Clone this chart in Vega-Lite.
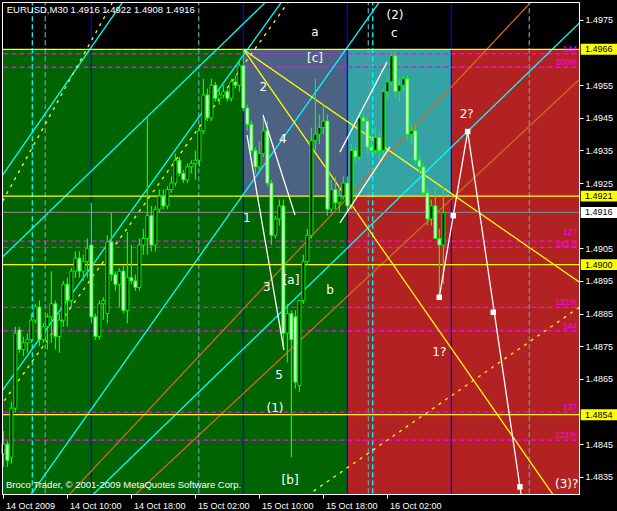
{
"$schema":"https://vega.github.io/schema/vega-lite/v6.json",
"width":577,"height":492,
"autosize":{"type":"none"},
"padding":{"left":2,"top":2,"right":38,"bottom":17},
"background":"#000000",
"config":{"view":{"stroke":null},"axis":{"labelColor":"#FFFFFF","tickColor":"#FFFFFF","domainColor":"#FFFFFF","grid":false,"labelFont":"Liberation Sans","labelFontSize":9,"tickSize":4}},
"datasets":{
"zones":[
{"zone":"up","t":"2009-10-14T00:00Z","t2":"2009-10-15T21:00Z","p":1.4966,"p2":1.4800},
{"zone":"wave","t":"2009-10-15T08:00Z","t2":"2009-10-15T21:00Z","p":1.4966,"p2":1.4921},
{"zone":"proj","t":"2009-10-15T21:00Z","t2":"2009-10-16T10:00Z","p":1.4966,"p2":1.4921},
{"zone":"target","t":"2009-10-15T21:00Z","t2":"2009-10-17T06:00Z","p":1.4921,"p2":1.4800},
{"zone":"target","t":"2009-10-16T10:00Z","t2":"2009-10-17T06:00Z","p":1.4966,"p2":1.4921}
],
"lines":[
{"id":"B1","k":"blue","t":"2009-10-14T13:00Z","p":1.47},{"id":"B1","k":"blue","t":"2009-10-14T13:00Z","p":1.50},
{"id":"B2","k":"blue","t":"2009-10-15T08:00Z","p":1.47},{"id":"B2","k":"blue","t":"2009-10-15T08:00Z","p":1.50},
{"id":"B3","k":"blue","t":"2009-10-15T21:00Z","p":1.47},{"id":"B3","k":"blue","t":"2009-10-15T21:00Z","p":1.50},
{"id":"B4","k":"blue","t":"2009-10-16T10:00Z","p":1.47},{"id":"B4","k":"blue","t":"2009-10-16T10:00Z","p":1.50},
{"id":"V1","k":"cyanDash","t":"2009-10-14T05:37Z","p":1.47},{"id":"V1","k":"cyanDash","t":"2009-10-14T05:37Z","p":1.50},
{"id":"V2","k":"cadetDash","t":"2009-10-14T07:14Z","p":1.47},{"id":"V2","k":"cadetDash","t":"2009-10-14T07:14Z","p":1.50},
{"id":"V3","k":"cadetDash","t":"2009-10-15T02:25Z","p":1.47},{"id":"V3","k":"cadetDash","t":"2009-10-15T02:25Z","p":1.50},
{"id":"V4","k":"cadetDash","t":"2009-10-15T23:37Z","p":1.47},{"id":"V4","k":"cadetDash","t":"2009-10-15T23:37Z","p":1.50},
{"id":"V5","k":"cyanDash","t":"2009-10-16T00:10Z","p":1.47},{"id":"V5","k":"cyanDash","t":"2009-10-16T00:10Z","p":1.50},
{"id":"V6","k":"cadetDash","t":"2009-10-16T19:44Z","p":1.47},{"id":"V6","k":"cadetDash","t":"2009-10-16T19:44Z","p":1.50},
{"id":"F1","k":"fibo","t":"2009-10-13T12:00Z","p":1.49646},{"id":"F1","k":"fibo","t":"2009-10-17T12:00Z","p":1.49646},
{"id":"F2","k":"fibo","t":"2009-10-13T12:00Z","p":1.49605},{"id":"F2","k":"fibo","t":"2009-10-17T12:00Z","p":1.49605},
{"id":"F3","k":"fibo","t":"2009-10-13T12:00Z","p":1.49072},{"id":"F3","k":"fibo","t":"2009-10-17T12:00Z","p":1.49072},
{"id":"F4","k":"fibo","t":"2009-10-13T12:00Z","p":1.49053},{"id":"F4","k":"fibo","t":"2009-10-17T12:00Z","p":1.49053},
{"id":"F5","k":"fibo","t":"2009-10-13T12:00Z","p":1.48869},{"id":"F5","k":"fibo","t":"2009-10-17T12:00Z","p":1.48869},
{"id":"F6","k":"fibo","t":"2009-10-13T12:00Z","p":1.48797},{"id":"F6","k":"fibo","t":"2009-10-17T12:00Z","p":1.48797},
{"id":"F7","k":"fibo","t":"2009-10-13T12:00Z","p":1.48548},{"id":"F7","k":"fibo","t":"2009-10-17T12:00Z","p":1.48548},
{"id":"F8","k":"fibo","t":"2009-10-13T12:00Z","p":1.48462},{"id":"F8","k":"fibo","t":"2009-10-17T12:00Z","p":1.48462},
{"id":"CA","k":"cyan","t":"2009-10-14T00:57Z","p":1.49241},{"id":"CA","k":"cyan","t":"2009-10-14T17:32Z","p":1.49827},
{"id":"CB","k":"cyan","t":"2009-10-14T00:57Z","p":1.49001},{"id":"CB","k":"cyan","t":"2009-10-15T11:43Z","p":1.49827},
{"id":"CC","k":"cyan","t":"2009-10-14T00:57Z","p":1.48583},{"id":"CC","k":"cyan","t":"2009-10-15T13:25Z","p":1.49827},
{"id":"CD","k":"cyan","t":"2009-10-14T04:56Z","p":1.48278},{"id":"CD","k":"cyan","t":"2009-10-16T01:38Z","p":1.49827},
{"id":"CE","k":"cyan","t":"2009-10-14T12:29Z","p":1.48278},{"id":"CE","k":"cyan","t":"2009-10-17T03:19Z","p":1.49772},
{"id":"O1","k":"orange","t":"2009-10-14T09:34Z","p":1.48278},{"id":"O1","k":"orange","t":"2009-10-16T20:48Z","p":1.49827},
{"id":"O2","k":"orange","t":"2009-10-14T17:44Z","p":1.48278},{"id":"O2","k":"orange","t":"2009-10-17T03:19Z","p":1.49598},
{"id":"YD1","k":"yellowDot","t":"2009-10-14T00:57Z","p":1.49152},{"id":"YD1","k":"yellowDot","t":"2009-10-14T16:10Z","p":1.49827},
{"id":"YD2","k":"yellowDot","t":"2009-10-14T00:57Z","p":1.48543},{"id":"YD2","k":"yellowDot","t":"2009-10-15T14:16Z","p":1.49827},
{"id":"YD4","k":"yellowDot","t":"2009-10-15T15:08Z","p":1.48278},{"id":"YD4","k":"yellowDot","t":"2009-10-17T03:19Z","p":1.48892},
{"id":"YS1","k":"yellow","t":"2009-10-15T08:04Z","p":1.49658},{"id":"YS1","k":"yellow","t":"2009-10-17T03:19Z","p":1.48924},
{"id":"YS2","k":"yellow","t":"2009-10-15T08:04Z","p":1.49658},{"id":"YS2","k":"yellow","t":"2009-10-16T23:11Z","p":1.48278},
{"id":"L1","k":"level","t":"2009-10-13T12:00Z","p":1.4966},{"id":"L1","k":"level","t":"2009-10-17T12:00Z","p":1.4966},
{"id":"L2","k":"level","t":"2009-10-13T12:00Z","p":1.4921},{"id":"L2","k":"level","t":"2009-10-17T12:00Z","p":1.4921},
{"id":"L3","k":"level","t":"2009-10-13T12:00Z","p":1.4900},{"id":"L3","k":"level","t":"2009-10-17T12:00Z","p":1.4900},
{"id":"L4","k":"level","t":"2009-10-13T12:00Z","p":1.4854},{"id":"L4","k":"level","t":"2009-10-17T12:00Z","p":1.4854},
{"id":"BID","k":"bid","t":"2009-10-13T12:00Z","p":1.4916},{"id":"BID","k":"bid","t":"2009-10-17T12:00Z","p":1.4916},
{"id":"W1","k":"white","t":"2009-10-15T08:27Z","p":1.49397},{"id":"W1","k":"white","t":"2009-10-15T13:04Z","p":1.48738},
{"id":"W2","k":"white","t":"2009-10-15T10:27Z","p":1.49459},{"id":"W2","k":"white","t":"2009-10-15T14:27Z","p":1.49152},
{"id":"W3","k":"white","t":"2009-10-15T20:04Z","p":1.49345},{"id":"W3","k":"white","t":"2009-10-16T01:57Z","p":1.49621},
{"id":"W4","k":"white","t":"2009-10-15T20:04Z","p":1.49128},{"id":"W4","k":"white","t":"2009-10-16T02:19Z","p":1.49361},
{"id":"ZZ","k":"white","t":"2009-10-16T08:29Z","p":1.48900},{"id":"ZZ","k":"white","t":"2009-10-16T12:02Z","p":1.49408},{"id":"ZZ","k":"white","t":"2009-10-16T18:42Z","p":1.48297}
],
"squares":[
{"t":"2009-10-16T08:29Z","p":1.48900},{"t":"2009-10-16T10:14Z","p":1.49150},{"t":"2009-10-16T12:02Z","p":1.49408},{"t":"2009-10-16T15:14Z","p":1.48854},{"t":"2009-10-16T18:34Z","p":1.48319}
],
"candles":[
{"t":"2009-10-14T02:00Z","o":1.4842,"h":1.4849,"l":1.4838,"c":1.4845},
{"t":"2009-10-14T02:30Z","o":1.4845,"h":1.4846,"l":1.4838,"c":1.4840},
{"t":"2009-10-14T03:00Z","o":1.4841,"h":1.4858,"l":1.4839,"c":1.4856},
{"t":"2009-10-14T03:30Z","o":1.4856,"h":1.4881,"l":1.4855,"c":1.4879},
{"t":"2009-10-14T04:00Z","o":1.4880,"h":1.4881,"l":1.4873,"c":1.4874},
{"t":"2009-10-14T04:30Z","o":1.4874,"h":1.4878,"l":1.4872,"c":1.4876},
{"t":"2009-10-14T05:00Z","o":1.4876,"h":1.4879,"l":1.4873,"c":1.4877},
{"t":"2009-10-14T05:30Z","o":1.4877,"h":1.4885,"l":1.4876,"c":1.4883},
{"t":"2009-10-14T06:00Z","o":1.4883,"h":1.4888,"l":1.4882,"c":1.4887},
{"t":"2009-10-14T06:30Z","o":1.4887,"h":1.4889,"l":1.4875,"c":1.4877},
{"t":"2009-10-14T07:00Z","o":1.4877,"h":1.4882,"l":1.4876,"c":1.4881},
{"t":"2009-10-14T07:30Z","o":1.4881,"h":1.4885,"l":1.4874,"c":1.4884},
{"t":"2009-10-14T08:00Z","o":1.4884,"h":1.4898,"l":1.4876,"c":1.4888},
{"t":"2009-10-14T08:30Z","o":1.4888,"h":1.4889,"l":1.4874,"c":1.4878},
{"t":"2009-10-14T09:00Z","o":1.4878,"h":1.4885,"l":1.4873,"c":1.4883},
{"t":"2009-10-14T09:30Z","o":1.4883,"h":1.4895,"l":1.4881,"c":1.4894},
{"t":"2009-10-14T10:00Z","o":1.4894,"h":1.4896,"l":1.4881,"c":1.4889},
{"t":"2009-10-14T10:30Z","o":1.4889,"h":1.4899,"l":1.4887,"c":1.4898},
{"t":"2009-10-14T11:00Z","o":1.4898,"h":1.4904,"l":1.4896,"c":1.4902},
{"t":"2009-10-14T11:30Z","o":1.4902,"h":1.4904,"l":1.4896,"c":1.4898},
{"t":"2009-10-14T12:00Z","o":1.4898,"h":1.4903,"l":1.4895,"c":1.4901},
{"t":"2009-10-14T12:30Z","o":1.4901,"h":1.4908,"l":1.4896,"c":1.4905},
{"t":"2009-10-14T13:00Z","o":1.4906,"h":1.4919,"l":1.4882,"c":1.4884},
{"t":"2009-10-14T13:30Z","o":1.4884,"h":1.4885,"l":1.4877,"c":1.4878},
{"t":"2009-10-14T14:00Z","o":1.4878,"h":1.4889,"l":1.4877,"c":1.4888},
{"t":"2009-10-14T14:30Z","o":1.4888,"h":1.4890,"l":1.4883,"c":1.4889},
{"t":"2009-10-14T15:00Z","o":1.4885,"h":1.4909,"l":1.4882,"c":1.4907},
{"t":"2009-10-14T15:30Z","o":1.4907,"h":1.4916,"l":1.4895,"c":1.4897},
{"t":"2009-10-14T16:00Z","o":1.4897,"h":1.4898,"l":1.4892,"c":1.4894},
{"t":"2009-10-14T16:30Z","o":1.4894,"h":1.4899,"l":1.4887,"c":1.4898},
{"t":"2009-10-14T17:00Z","o":1.4898,"h":1.4900,"l":1.4885,"c":1.4886},
{"t":"2009-10-14T17:30Z","o":1.4886,"h":1.4910,"l":1.4882,"c":1.4896},
{"t":"2009-10-14T18:00Z","o":1.4896,"h":1.4906,"l":1.4894,"c":1.4895},
{"t":"2009-10-14T18:30Z","o":1.4895,"h":1.4897,"l":1.4892,"c":1.4893},
{"t":"2009-10-14T19:00Z","o":1.4893,"h":1.4908,"l":1.4892,"c":1.4906},
{"t":"2009-10-14T19:30Z","o":1.4906,"h":1.4911,"l":1.4903,"c":1.4908},
{"t":"2009-10-14T20:00Z","o":1.4908,"h":1.4945,"l":1.4903,"c":1.4915},
{"t":"2009-10-14T20:30Z","o":1.4915,"h":1.4918,"l":1.4904,"c":1.4906},
{"t":"2009-10-14T21:00Z","o":1.4906,"h":1.4918,"l":1.4904,"c":1.4917},
{"t":"2009-10-14T21:30Z","o":1.4917,"h":1.4923,"l":1.4916,"c":1.4921},
{"t":"2009-10-14T22:00Z","o":1.4921,"h":1.4923,"l":1.4917,"c":1.4918},
{"t":"2009-10-14T22:30Z","o":1.4918,"h":1.4924,"l":1.4917,"c":1.4923},
{"t":"2009-10-14T23:00Z","o":1.4923,"h":1.4927,"l":1.4922,"c":1.4925},
{"t":"2009-10-14T23:30Z","o":1.4925,"h":1.4934,"l":1.4924,"c":1.4932},
{"t":"2009-10-15T00:00Z","o":1.4932,"h":1.4933,"l":1.4927,"c":1.4928},
{"t":"2009-10-15T00:30Z","o":1.4928,"h":1.4929,"l":1.4925,"c":1.4926},
{"t":"2009-10-15T01:00Z","o":1.4926,"h":1.4931,"l":1.4925,"c":1.4930},
{"t":"2009-10-15T01:30Z","o":1.4930,"h":1.4932,"l":1.4928,"c":1.4931},
{"t":"2009-10-15T02:00Z","o":1.4931,"h":1.4935,"l":1.4926,"c":1.4932},
{"t":"2009-10-15T02:30Z","o":1.4932,"h":1.4942,"l":1.4930,"c":1.4941},
{"t":"2009-10-15T03:00Z","o":1.4941,"h":1.4957,"l":1.4940,"c":1.4952},
{"t":"2009-10-15T03:30Z","o":1.4952,"h":1.4954,"l":1.4944,"c":1.4945},
{"t":"2009-10-15T04:00Z","o":1.4945,"h":1.4957,"l":1.4944,"c":1.4955},
{"t":"2009-10-15T04:30Z","o":1.4955,"h":1.4956,"l":1.4950,"c":1.4951},
{"t":"2009-10-15T05:00Z","o":1.4951,"h":1.4954,"l":1.4949,"c":1.4952},
{"t":"2009-10-15T05:30Z","o":1.4952,"h":1.4955,"l":1.4951,"c":1.4953},
{"t":"2009-10-15T06:00Z","o":1.4953,"h":1.4954,"l":1.4950,"c":1.4951},
{"t":"2009-10-15T06:30Z","o":1.4951,"h":1.4957,"l":1.4950,"c":1.4956},
{"t":"2009-10-15T07:00Z","o":1.4956,"h":1.4958,"l":1.4954,"c":1.4955},
{"t":"2009-10-15T07:30Z","o":1.4955,"h":1.4963,"l":1.4953,"c":1.4961},
{"t":"2009-10-15T08:00Z","o":1.4961,"h":1.4966,"l":1.4947,"c":1.4948},
{"t":"2009-10-15T08:30Z","o":1.4948,"h":1.4949,"l":1.4941,"c":1.4943},
{"t":"2009-10-15T09:00Z","o":1.4943,"h":1.4944,"l":1.4934,"c":1.4935},
{"t":"2009-10-15T09:30Z","o":1.4935,"h":1.4936,"l":1.4928,"c":1.4930},
{"t":"2009-10-15T10:00Z","o":1.4930,"h":1.4938,"l":1.4928,"c":1.4934},
{"t":"2009-10-15T10:30Z","o":1.4934,"h":1.4945,"l":1.4933,"c":1.4941},
{"t":"2009-10-15T11:00Z","o":1.4941,"h":1.4944,"l":1.4924,"c":1.4925},
{"t":"2009-10-15T11:30Z","o":1.4925,"h":1.4926,"l":1.4906,"c":1.4909},
{"t":"2009-10-15T12:00Z","o":1.4909,"h":1.4915,"l":1.4908,"c":1.4914},
{"t":"2009-10-15T12:30Z","o":1.4914,"h":1.4920,"l":1.4912,"c":1.4918},
{"t":"2009-10-15T13:00Z","o":1.4918,"h":1.4920,"l":1.4874,"c":1.4879},
{"t":"2009-10-15T13:30Z","o":1.4879,"h":1.4888,"l":1.4870,"c":1.4885},
{"t":"2009-10-15T14:00Z","o":1.4885,"h":1.4886,"l":1.4841,"c":1.4877},
{"t":"2009-10-15T14:30Z","o":1.4884,"h":1.4886,"l":1.4862,"c":1.4864},
{"t":"2009-10-15T15:00Z","o":1.4863,"h":1.4889,"l":1.4861,"c":1.4889},
{"t":"2009-10-15T15:30Z","o":1.4889,"h":1.4903,"l":1.4888,"c":1.4901},
{"t":"2009-10-15T16:00Z","o":1.4901,"h":1.4911,"l":1.4900,"c":1.4909},
{"t":"2009-10-15T16:30Z","o":1.4909,"h":1.4942,"l":1.4908,"c":1.4938},
{"t":"2009-10-15T17:00Z","o":1.4938,"h":1.4957,"l":1.4935,"c":1.4940},
{"t":"2009-10-15T17:30Z","o":1.4940,"h":1.4946,"l":1.4937,"c":1.4942},
{"t":"2009-10-15T18:00Z","o":1.4942,"h":1.4949,"l":1.4940,"c":1.4944},
{"t":"2009-10-15T18:30Z","o":1.4944,"h":1.4946,"l":1.4915,"c":1.4917},
{"t":"2009-10-15T19:00Z","o":1.4917,"h":1.4926,"l":1.4916,"c":1.4923},
{"t":"2009-10-15T19:30Z","o":1.4923,"h":1.4927,"l":1.4917,"c":1.4919},
{"t":"2009-10-15T20:00Z","o":1.4919,"h":1.4924,"l":1.4916,"c":1.4921},
{"t":"2009-10-15T20:30Z","o":1.4921,"h":1.4927,"l":1.4920,"c":1.4925},
{"t":"2009-10-15T21:00Z","o":1.4925,"h":1.4927,"l":1.4916,"c":1.4918},
{"t":"2009-10-15T21:30Z","o":1.4918,"h":1.4937,"l":1.4917,"c":1.4935},
{"t":"2009-10-15T22:00Z","o":1.4935,"h":1.4936,"l":1.4931,"c":1.4933},
{"t":"2009-10-15T22:30Z","o":1.4933,"h":1.4947,"l":1.4932,"c":1.4945},
{"t":"2009-10-15T23:00Z","o":1.4945,"h":1.4947,"l":1.4941,"c":1.4944},
{"t":"2009-10-15T23:30Z","o":1.4944,"h":1.4945,"l":1.4934,"c":1.4936},
{"t":"2009-10-16T00:00Z","o":1.4936,"h":1.4940,"l":1.4934,"c":1.4935},
{"t":"2009-10-16T00:30Z","o":1.4935,"h":1.4942,"l":1.4934,"c":1.4939},
{"t":"2009-10-16T01:00Z","o":1.4939,"h":1.4941,"l":1.4932,"c":1.4935},
{"t":"2009-10-16T01:30Z","o":1.4935,"h":1.4954,"l":1.4933,"c":1.4953},
{"t":"2009-10-16T02:00Z","o":1.4953,"h":1.4957,"l":1.4951,"c":1.4956},
{"t":"2009-10-16T02:30Z","o":1.4956,"h":1.4965,"l":1.4955,"c":1.4964},
{"t":"2009-10-16T03:00Z","o":1.4964,"h":1.4965,"l":1.4951,"c":1.4953},
{"t":"2009-10-16T03:30Z","o":1.4953,"h":1.4957,"l":1.4950,"c":1.4955},
{"t":"2009-10-16T04:00Z","o":1.4955,"h":1.4958,"l":1.4953,"c":1.4957},
{"t":"2009-10-16T04:30Z","o":1.4957,"h":1.4958,"l":1.4938,"c":1.4940},
{"t":"2009-10-16T05:00Z","o":1.4940,"h":1.4943,"l":1.4937,"c":1.4941},
{"t":"2009-10-16T05:30Z","o":1.4941,"h":1.4943,"l":1.4931,"c":1.4932},
{"t":"2009-10-16T06:00Z","o":1.4932,"h":1.4934,"l":1.4928,"c":1.4930},
{"t":"2009-10-16T06:30Z","o":1.4930,"h":1.4931,"l":1.4921,"c":1.4922},
{"t":"2009-10-16T07:00Z","o":1.4922,"h":1.4924,"l":1.4912,"c":1.4914},
{"t":"2009-10-16T07:30Z","o":1.4914,"h":1.4920,"l":1.4912,"c":1.4918},
{"t":"2009-10-16T08:00Z","o":1.4918,"h":1.4924,"l":1.4908,"c":1.4908},
{"t":"2009-10-16T08:30Z","o":1.4908,"h":1.4911,"l":1.4891,"c":1.4906},
{"t":"2009-10-16T09:00Z","o":1.4906,"h":1.4924,"l":1.4894,"c":1.4916}
],
"waves":[
{"t":"2009-10-15T16:57Z","p":1.49714,"s":"a"},
{"t":"2009-10-16T02:57Z","p":1.49765,"s":"(2)"},
{"t":"2009-10-16T02:52Z","p":1.49709,"s":"c"},
{"t":"2009-10-15T16:57Z","p":1.49633,"s":"[c]"},
{"t":"2009-10-15T10:29Z","p":1.49545,"s":"2"},
{"t":"2009-10-15T12:55Z","p":1.49385,"s":"4"},
{"t":"2009-10-15T08:25Z","p":1.49142,"s":"1"},
{"t":"2009-10-15T10:55Z","p":1.48932,"s":"3"},
{"t":"2009-10-15T13:57Z","p":1.48953,"s":"[a]"},
{"t":"2009-10-15T18:50Z","p":1.48922,"s":"b"},
{"t":"2009-10-15T12:27Z","p":1.48662,"s":"5"},
{"t":"2009-10-15T11:57Z","p":1.48560,"s":"(1)"},
{"t":"2009-10-15T13:50Z","p":1.48340,"s":"[b]"},
{"t":"2009-10-16T08:29Z","p":1.48733,"s":"1?"},
{"t":"2009-10-16T11:55Z","p":1.49462,"s":"2?"},
{"t":"2009-10-17T00:25Z","p":1.48329,"s":"(3)?"}
],
"fibs":[
{"p":1.49646,"s":"144"},{"p":1.49605,"s":"200%"},{"p":1.49072,"s":"127"},{"p":1.49053,"s":"161.8"},
{"p":1.48869,"s":"121%"},{"p":1.48797,"s":"144"},{"p":1.48548,"s":"127"},{"p":1.48462,"s":"121%"}
],
"notes":[
{"t":"2009-10-14T02:25Z","p":1.49771,"s":"EURUSD,M30  1.4916 1.4922 1.4908 1.4916"},
{"t":"2009-10-14T02:19Z","p":1.48314,"s":"Broco Trader, © 2001-2009 MetaQuotes Software Corp."}
],
"tags":[
{"p":1.4966,"s":"1.4966"},{"p":1.4921,"s":"1.4921"},{"p":1.4916,"s":"1.4916"},{"p":1.4900,"s":"1.4900"},{"p":1.4854,"s":"1.4854"}
]
},
"layer":[
{"data":{"name":"zones"},
 "mark":{"type":"rect","clip":true},
 "encoding":{
  "x":{"field":"t","type":"temporal","title":null,"scale":{"type":"utc","padding":0,"domain":[{"year":2009,"month":10,"date":14,"hours":1,"minutes":49,"seconds":30,"utc":true},{"year":2009,"month":10,"date":17,"hours":1,"minutes":57,"utc":true}]},
   "axis":{"orient":"bottom","values":[{"year":2009,"month":10,"date":14,"hours":2,"utc":true},{"year":2009,"month":10,"date":14,"hours":10,"utc":true},{"year":2009,"month":10,"date":14,"hours":18,"utc":true},{"year":2009,"month":10,"date":15,"hours":2,"utc":true},{"year":2009,"month":10,"date":15,"hours":10,"utc":true},{"year":2009,"month":10,"date":15,"hours":18,"utc":true},{"year":2009,"month":10,"date":16,"hours":2,"utc":true}],
    "labelExpr":"datum.index === 0 ? '14 Oct 2009' : utcFormat(datum.value, '%d %b %H:%M')",
    "labelAlign":"left","labelBaseline":"top","labelPadding":3,"labelOffset":2,"labelFont":"Liberation Sans","labelFontSize":9,"labelColor":"#FFFFFF","tickColor":"#FFFFFF","tickSize":4,"domainColor":"#FFFFFF","grid":false,"title":null,"labelOverlap":false,"labelFlush":false,"labelBound":false}},
  "x2":{"field":"t2"},
  "y":{"field":"p","type":"quantitative","title":null,"scale":{"domain":[1.48297,1.49805],"zero":false,"nice":false,"padding":0},
   "axis":{"orient":"right","values":[1.4975,1.4955,1.4945,1.4935,1.4925,1.4905,1.4895,1.4885,1.4875,1.4865,1.4845,1.4835],"format":".4f","labelFont":"Liberation Sans","labelFontSize":9,"labelColor":"#FFFFFF","tickColor":"#FFFFFF","tickSize":4,"labelPadding":2,"domainColor":"#FFFFFF","grid":false,"title":null}},
  "y2":{"field":"p2"},
  "fill":{"field":"zone","type":"nominal","scale":{"domain":["up","wave","proj","target"],"range":["#006400","#4C6282","#35A3A3","#B22222"]},"legend":null}
 }},
{"data":{"name":"lines"},
 "transform":[{"filter":"datum.k != 'white'"}],
 "mark":{"type":"line","clip":true,"strokeWidth":1.3},
 "encoding":{
  "x":{"field":"t","type":"temporal","title":null,"scale":{"type":"utc","padding":0,"domain":[{"year":2009,"month":10,"date":14,"hours":1,"minutes":49,"seconds":30,"utc":true},{"year":2009,"month":10,"date":17,"hours":1,"minutes":57,"utc":true}]}},
  "y":{"field":"p","type":"quantitative","title":null,"scale":{"domain":[1.48297,1.49805],"zero":false,"nice":false,"padding":0}},
  "detail":{"field":"id"},
  "color":{"field":"k","type":"nominal","scale":{"domain":["blue","cyanDash","cadetDash","level","bid","fibo","cyan","orange","yellow","yellowDot","white"],"range":["#0000FF","#00FFFF","#5F9EA0","#FFFF00","#808080","#FF00FF","#00FFFF","#D2691E","#FFFF00","#FFFF00","#FFFFFF"]},"legend":null},
  "strokeDash":{"field":"k","type":"nominal","scale":{"domain":["blue","cyanDash","cadetDash","level","bid","fibo","cyan","orange","yellow","yellowDot","white"],"range":[[1,0],[5,3],[5,3],[1,0],[1,0],[5,3],[1,0],[1,0],[1,0],[3,5],[1,0]]},"legend":null}
 }},
{"data":{"name":"candles"},
 "mark":{"type":"rule","color":"#00FF00","strokeWidth":1.2},
 "encoding":{
  "x":{"field":"t","type":"temporal","title":null,"scale":{"type":"utc","padding":0,"domain":[{"year":2009,"month":10,"date":14,"hours":1,"minutes":49,"seconds":30,"utc":true},{"year":2009,"month":10,"date":17,"hours":1,"minutes":57,"utc":true}]}},
  "y":{"field":"l","type":"quantitative","title":null,"scale":{"domain":[1.48297,1.49805],"zero":false,"nice":false,"padding":0}},
  "y2":{"field":"h"}
 }},
{"data":{"name":"candles"},
 "mark":{"type":"bar","width":3,"stroke":"#00FF00","strokeWidth":1},
 "encoding":{
  "x":{"field":"t","type":"temporal","title":null,"scale":{"type":"utc","padding":0,"domain":[{"year":2009,"month":10,"date":14,"hours":1,"minutes":49,"seconds":30,"utc":true},{"year":2009,"month":10,"date":17,"hours":1,"minutes":57,"utc":true}]}},
  "y":{"field":"o","type":"quantitative","title":null,"scale":{"domain":[1.48297,1.49805],"zero":false,"nice":false,"padding":0}},
  "y2":{"field":"c"},
  "fill":{"condition":{"test":"datum.c > datum.o","value":"#000000"},"value":"#FFFFFF"}
 }},
{"data":{"name":"lines"},
 "transform":[{"filter":"datum.k == 'white'"}],
 "mark":{"type":"line","clip":true,"strokeWidth":1.3},
 "encoding":{
  "x":{"field":"t","type":"temporal","title":null,"scale":{"type":"utc","padding":0,"domain":[{"year":2009,"month":10,"date":14,"hours":1,"minutes":49,"seconds":30,"utc":true},{"year":2009,"month":10,"date":17,"hours":1,"minutes":57,"utc":true}]}},
  "y":{"field":"p","type":"quantitative","title":null,"scale":{"domain":[1.48297,1.49805],"zero":false,"nice":false,"padding":0}},
  "detail":{"field":"id"},
  "color":{"field":"k","type":"nominal","scale":{"domain":["blue","cyanDash","cadetDash","level","bid","fibo","cyan","orange","yellow","yellowDot","white"],"range":["#0000FF","#00FFFF","#5F9EA0","#FFFF00","#808080","#FF00FF","#00FFFF","#D2691E","#FFFF00","#FFFF00","#FFFFFF"]},"legend":null}
 }},
{"data":{"name":"squares"},
 "mark":{"type":"point","shape":"square","filled":true,"size":30,"color":"#FFFFFF","opacity":1},
 "encoding":{
  "x":{"field":"t","type":"temporal","title":null,"scale":{"type":"utc","padding":0,"domain":[{"year":2009,"month":10,"date":14,"hours":1,"minutes":49,"seconds":30,"utc":true},{"year":2009,"month":10,"date":17,"hours":1,"minutes":57,"utc":true}]}},
  "y":{"field":"p","type":"quantitative","title":null,"scale":{"domain":[1.48297,1.49805],"zero":false,"nice":false,"padding":0}}
 }},
{"data":{"name":"waves"},
 "mark":{"type":"text","color":"#FFFFFF","font":"DejaVu Sans","fontSize":12,"align":"center","baseline":"middle"},
 "encoding":{
  "x":{"field":"t","type":"temporal","title":null,"scale":{"type":"utc","padding":0,"domain":[{"year":2009,"month":10,"date":14,"hours":1,"minutes":49,"seconds":30,"utc":true},{"year":2009,"month":10,"date":17,"hours":1,"minutes":57,"utc":true}]}},
  "y":{"field":"p","type":"quantitative","title":null,"scale":{"domain":[1.48297,1.49805],"zero":false,"nice":false,"padding":0}},
  "text":{"field":"s"}
 }},
{"data":{"name":"fibs"},
 "transform":[{"filter":"datum.s != '161.8' && !(datum.s == '127' && datum.p > 1.49)"}],
 "mark":{"type":"text","color":"#FF00FF","font":"Liberation Sans","fontSize":8.5,"align":"right","baseline":"alphabetic","dx":-2,"dy":-2},
 "encoding":{
  "x":{"datum":{"year":2009,"month":10,"date":17,"hours":1,"minutes":57,"utc":true},"type":"temporal","title":null,"scale":{"type":"utc","padding":0,"domain":[{"year":2009,"month":10,"date":14,"hours":1,"minutes":49,"seconds":30,"utc":true},{"year":2009,"month":10,"date":17,"hours":1,"minutes":57,"utc":true}]}},
  "y":{"field":"p","type":"quantitative","title":null,"scale":{"domain":[1.48297,1.49805],"zero":false,"nice":false,"padding":0}},
  "text":{"field":"s"}
 }},
{"data":{"name":"fibs"},
 "transform":[{"filter":"datum.s == '127' && datum.p > 1.49"}],
 "mark":{"type":"text","color":"#FF00FF","font":"Liberation Sans","fontSize":8.5,"align":"right","baseline":"alphabetic","dx":-2,"dy":-6},
 "encoding":{
  "x":{"datum":{"year":2009,"month":10,"date":17,"hours":1,"minutes":57,"utc":true},"type":"temporal","title":null,"scale":{"type":"utc","padding":0,"domain":[{"year":2009,"month":10,"date":14,"hours":1,"minutes":49,"seconds":30,"utc":true},{"year":2009,"month":10,"date":17,"hours":1,"minutes":57,"utc":true}]}},
  "y":{"field":"p","type":"quantitative","title":null,"scale":{"domain":[1.48297,1.49805],"zero":false,"nice":false,"padding":0}},
  "text":{"field":"s"}
 }},
{"data":{"name":"fibs"},
 "transform":[{"filter":"datum.s == '161.8'"}],
 "mark":{"type":"text","color":"#FF00FF","font":"Liberation Sans","fontSize":8.5,"align":"right","baseline":"alphabetic","dx":-2,"dy":0},
 "encoding":{
  "x":{"datum":{"year":2009,"month":10,"date":17,"hours":1,"minutes":57,"utc":true},"type":"temporal","title":null,"scale":{"type":"utc","padding":0,"domain":[{"year":2009,"month":10,"date":14,"hours":1,"minutes":49,"seconds":30,"utc":true},{"year":2009,"month":10,"date":17,"hours":1,"minutes":57,"utc":true}]}},
  "y":{"field":"p","type":"quantitative","title":null,"scale":{"domain":[1.48297,1.49805],"zero":false,"nice":false,"padding":0}},
  "text":{"field":"s"}
 }},
{"data":{"name":"notes"},
 "mark":{"type":"text","color":"#FFFFFF","font":"Liberation Sans","fontSize":9.5,"align":"left","baseline":"alphabetic"},
 "encoding":{
  "x":{"field":"t","type":"temporal","title":null,"scale":{"type":"utc","padding":0,"domain":[{"year":2009,"month":10,"date":14,"hours":1,"minutes":49,"seconds":30,"utc":true},{"year":2009,"month":10,"date":17,"hours":1,"minutes":57,"utc":true}]}},
  "y":{"field":"p","type":"quantitative","title":null,"scale":{"domain":[1.48297,1.49805],"zero":false,"nice":false,"padding":0}},
  "text":{"field":"s"}
 }},
{"data":{"name":"tags"},
 "mark":{"type":"point","shape":"M-1,-0.3L1,-0.3L1,0.3L-1,0.3Z","filled":true,"size":1318,"opacity":1,"strokeWidth":0},
 "encoding":{
  "x":{"datum":{"year":2009,"month":10,"date":17,"hours":4,"minutes":26,"utc":true},"type":"temporal","title":null,"scale":{"type":"utc","padding":0,"domain":[{"year":2009,"month":10,"date":14,"hours":1,"minutes":49,"seconds":30,"utc":true},{"year":2009,"month":10,"date":17,"hours":1,"minutes":57,"utc":true}]}},
  "y":{"field":"p","type":"quantitative","title":null,"scale":{"domain":[1.48297,1.49805],"zero":false,"nice":false,"padding":0}},
  "fill":{"condition":{"test":"datum.s == '1.4916'","value":"#FFFFFF"},"value":"#FFFF00"}
 }},
{"data":{"name":"tags"},
 "mark":{"type":"text","color":"#000000","font":"Liberation Sans","fontSize":9,"align":"left","baseline":"middle"},
 "encoding":{
  "x":{"datum":{"year":2009,"month":10,"date":17,"hours":2,"minutes":42,"utc":true},"type":"temporal","title":null,"scale":{"type":"utc","padding":0,"domain":[{"year":2009,"month":10,"date":14,"hours":1,"minutes":49,"seconds":30,"utc":true},{"year":2009,"month":10,"date":17,"hours":1,"minutes":57,"utc":true}]}},
  "y":{"field":"p","type":"quantitative","title":null,"scale":{"domain":[1.48297,1.49805],"zero":false,"nice":false,"padding":0}},
  "text":{"field":"s"}
 }},
{"data":{"values":[{}]},
 "mark":{"type":"rect","fill":"transparent","stroke":"#FFFFFF","strokeWidth":1,"xOffset":0.5,"x2Offset":0.5,"yOffset":0.5,"y2Offset":0.5},
 "encoding":{
  "x":{"datum":{"year":2009,"month":10,"date":14,"hours":1,"minutes":49,"seconds":30,"utc":true},"type":"temporal","title":null,"scale":{"type":"utc","padding":0,"domain":[{"year":2009,"month":10,"date":14,"hours":1,"minutes":49,"seconds":30,"utc":true},{"year":2009,"month":10,"date":17,"hours":1,"minutes":57,"utc":true}]}},
  "x2":{"datum":{"year":2009,"month":10,"date":17,"hours":1,"minutes":57,"utc":true}},
  "y":{"datum":1.48297,"type":"quantitative","title":null,"scale":{"domain":[1.48297,1.49805],"zero":false,"nice":false,"padding":0}},
  "y2":{"datum":1.49805}
 }}
]
}
